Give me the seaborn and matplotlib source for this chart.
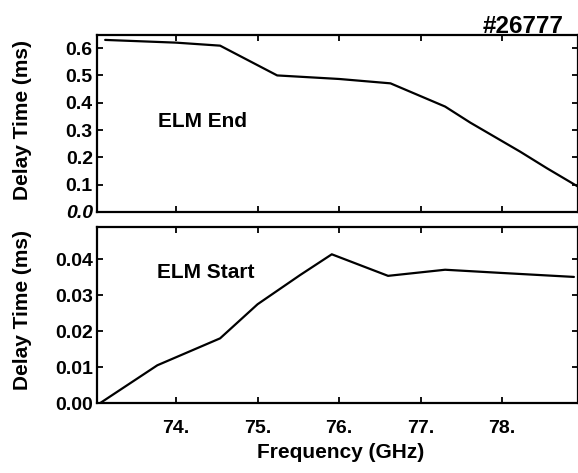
import matplotlib
matplotlib.use("Agg")
import matplotlib.pyplot as plt
import seaborn as sns
import pandas as pd

# Data
end_freq = [73.13, 74.0, 74.54, 75.24, 76.0, 76.63, 77.3, 77.61, 78.22, 78.55, 78.93]
end_delay = [0.630, 0.620, 0.609, 0.500, 0.487, 0.471, 0.386, 0.327, 0.221, 0.160, 0.093]

start_freq = [73.07, 73.77, 74.54, 75.0, 75.52, 75.91, 76.6, 77.3, 78.0, 78.88]
start_delay = [0.0, 0.0105, 0.018, 0.0275, 0.0356, 0.0414, 0.0354, 0.0371, 0.0362, 0.0351]

x_ticks = [74, 75, 76, 77, 78]
x_tick_labels = ["74.", "75.", "76.", "77.", "78."]
top_y_ticks = [0.0, 0.1, 0.2, 0.3, 0.4, 0.5, 0.6]
top_y_labels = ["0.0", "0.1", "0.2", "0.3", "0.4", "0.5", "0.6"]
bot_y_ticks = [0.0, 0.01, 0.02, 0.03, 0.04]
bot_y_labels = ["0.00", "0.01", "0.02", "0.03", "0.04"]

sns.set_style("ticks")
plt.rcParams['font.family'] = ['Liberation Sans', 'DejaVu Sans']
plt.rcParams['font.weight'] = 'bold'
plt.rcParams['text.color'] = 'black'
plt.rcParams['xtick.color'] = 'black'
plt.rcParams['ytick.color'] = 'black'
plt.rcParams['axes.labelcolor'] = 'black'

W, H = 578, 473
fig = plt.figure(figsize=(W / 100, H / 100), dpi=100)

L, R = 97, 578
ax1 = fig.add_axes([L / W, (H - 212) / H, (R - L) / W, 177 / H])
ax2 = fig.add_axes([L / W, (H - 403) / H, (R - L) / W, 176 / H])

df_end = pd.DataFrame({"f": end_freq, "d": end_delay})
df_start = pd.DataFrame({"f": start_freq, "d": start_delay})

sns.lineplot(data=df_end, x="f", y="d", ax=ax1, color="black", linewidth=1.6, sort=False)
sns.lineplot(data=df_start, x="f", y="d", ax=ax2, color="black", linewidth=1.6, sort=False)

for ax in (ax1, ax2):
    ax.set_xlim(73.03, 78.93)
    ax.set_xlabel("")
    ax.set_ylabel("")
    for s in ax.spines.values():
        s.set_linewidth(1.6)
        s.set_color("black")
    ax.tick_params(direction="in", top=True, right=True, length=4, width=1.3,
                   labelsize=14, colors="black", labelcolor="black")
    ax.set_xticks(x_ticks)

ax1.set_ylim(0, 0.648)
ax1.set_yticks(top_y_ticks)
ax1.set_yticklabels(top_y_labels, fontweight="bold", color="black")
ax1.set_xticklabels([])
ax1.tick_params(axis="y", pad=3)
for lbl in ax1.get_yticklabels():
    if lbl.get_text() == "0.0":
        lbl.set_fontstyle("italic")

ax2.set_ylim(0, 0.049)
ax2.set_yticks(bot_y_ticks)
ax2.set_yticklabels(bot_y_labels, fontweight="bold", color="black")
ax2.set_xticklabels(x_tick_labels, fontweight="bold", color="black")
ax2.tick_params(axis="y", pad=3)
ax2.tick_params(axis="x", pad=12)

ax1.text(0.127, 0.514, "ELM End", transform=ax1.transAxes, fontsize=15,
         fontweight="bold", ha="left", va="center", color="black")
ax2.text(0.125, 0.739, "ELM Start", transform=ax2.transAxes, fontsize=15,
         fontweight="bold", ha="left", va="center", color="black")

fig.text(23 / W, 1 - 120 / H, "Delay Time (ms)", rotation=90, fontsize=15,
         fontweight="bold", ha="center", va="center", color="black")
fig.text(23 / W, 1 - 310 / H, "Delay Time (ms)", rotation=90, fontsize=15,
         fontweight="bold", ha="center", va="center", color="black")
fig.text(341 / W, 1 - 452 / H, "Frequency (GHz)", fontsize=15,
         fontweight="bold", ha="center", va="center", color="black")
fig.text(564 / W, 1 - 33 / H, "#26777", fontsize=17.5,
         fontweight="bold", ha="right", va="baseline", color="black")

fig.savefig("out.png", dpi=100)
